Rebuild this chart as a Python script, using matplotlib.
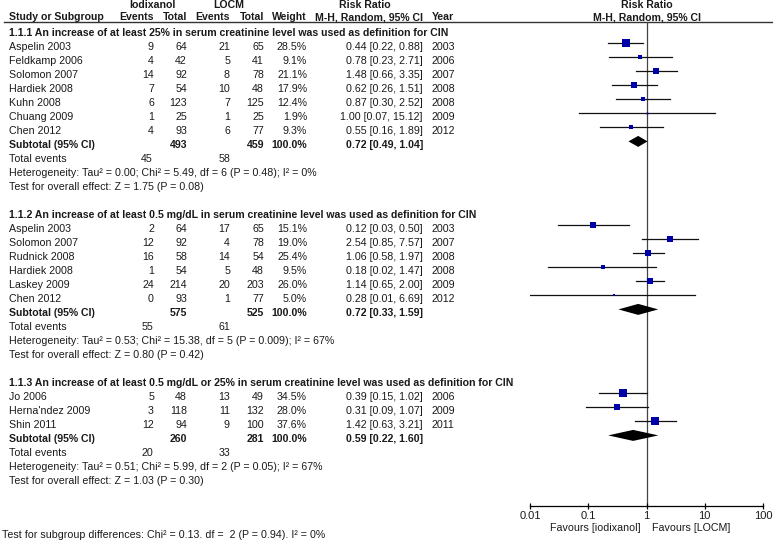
import numpy as np
import matplotlib.pyplot as plt

plt.rcParams['font.family'] = ['Liberation Sans', 'DejaVu Sans']
plt.rcParams['font.size'] = 7.65

# ---- data ----
headers = ["1.1.1 An increase of at least 25% in serum creatinine level was used as definition for CIN",
           "1.1.2 An increase of at least 0.5 mg/dL in serum creatinine level was used as definition for CIN",
           "1.1.3 An increase of at least 0.5 mg/dL or 25% in serum creatinine level was used as definition for CIN"]
group = [0, 0, 0, 0, 0, 0, 0, 1, 1, 1, 1, 1, 1, 2, 2, 2]
study = ["Aspelin 2003", "Feldkamp 2006", "Solomon 2007", "Hardiek 2008", "Kuhn 2008", "Chuang 2009", "Chen 2012",
         "Aspelin 2003", "Solomon 2007", "Rudnick 2008", "Hardiek 2008", "Laskey 2009", "Chen 2012",
         "Jo 2006", "Herna'ndez 2009", "Shin 2011"]
ev_iod = [9, 4, 14, 7, 6, 1, 4, 2, 12, 16, 1, 24, 0, 5, 3, 12]
tot_iod = [64, 42, 92, 54, 123, 25, 93, 64, 92, 58, 54, 214, 93, 48, 118, 94]
ev_locm = [21, 5, 8, 10, 7, 1, 6, 17, 4, 14, 5, 20, 1, 13, 11, 9]
tot_locm = [65, 41, 78, 48, 125, 25, 77, 65, 78, 54, 48, 203, 77, 49, 132, 100]
weight = [28.5, 9.1, 21.1, 17.9, 12.4, 1.9, 9.3, 15.1, 19.0, 25.4, 9.5, 26.0, 5.0, 34.5, 28.0, 37.6]
rr = [0.44, 0.78, 1.48, 0.62, 0.87, 1.00, 0.55, 0.12, 2.54, 1.06, 0.18, 1.14, 0.28, 0.39, 0.31, 1.42]
lo = [0.22, 0.23, 0.66, 0.26, 0.30, 0.07, 0.16, 0.03, 0.85, 0.58, 0.02, 0.65, 0.01, 0.15, 0.09, 0.63]
hi = [0.88, 2.71, 3.35, 1.51, 2.52, 15.12, 1.89, 0.50, 7.57, 1.97, 1.47, 2.00, 6.69, 1.02, 1.07, 3.21]
year = [2003, 2006, 2007, 2008, 2008, 2009, 2012, 2003, 2007, 2008, 2008, 2009, 2012, 2006, 2009, 2011]

sub_tot_iod = [493, 575, 260]
sub_tot_locm = [459, 525, 281]
sub_rr = [0.72, 0.72, 0.59]
sub_lo = [0.49, 0.33, 0.22]
sub_hi = [1.04, 1.59, 1.60]
sub_ev_iod = [45, 55, 20]
sub_ev_locm = [58, 61, 33]
heterogeneity = ["Heterogeneity: Tau\u00b2 = 0.00; Chi\u00b2 = 5.49, df = 6 (P = 0.48); I\u00b2 = 0%",
                 "Heterogeneity: Tau\u00b2 = 0.53; Chi\u00b2 = 15.38, df = 5 (P = 0.009); I\u00b2 = 67%",
                 "Heterogeneity: Tau\u00b2 = 0.51; Chi\u00b2 = 5.99, df = 2 (P = 0.05); I\u00b2 = 67%"]
overall = ["Test for overall effect: Z = 1.75 (P = 0.08)",
           "Test for overall effect: Z = 0.80 (P = 0.42)",
           "Test for overall effect: Z = 1.03 (P = 0.30)"]
subgroup_diff = "Test for subgroup differences: Chi\u00b2 = 0.13. df =  2 (P = 0.94). I\u00b2 = 0%"
ticks = [0.01, 0.1, 1, 10, 100]
tick_labels = ["0.01", "0.1", "1", "10", "100"]

# ---- layout (pixels) ----
W, H = 773, 543
TXT = '#1a1a1a'
BLUE = '#0000a8'
BOLD_SIZE = 7.55
x_name, x_ei, x_ti, x_el, x_tl, x_w, x_ci, x_yr = 9, 154, 187, 230, 264, 307, 423, 432
y0, step, off = 32.7, 14.0, -3.3
px_left, px_right, px_axis, px_top = 530, 763, 505.7, 22

fig = plt.figure(figsize=(W / 100, H / 100), dpi=100)
ta = fig.add_axes([0, 0, 1, 1])
ta.set_xlim(0, W)
ta.set_ylim(H, 0)
ta.axis('off')

fa = fig.add_axes([px_left / W, (H - px_axis) / H, (px_right - px_left) / W, (px_axis - px_top) / H])
fa.set_xscale('log')
fa.set_xlim(0.01, 100)
fa.set_ylim(px_axis, px_top)
fa.patch.set_alpha(0)
for s in ['top', 'left', 'right']:
    fa.spines[s].set_visible(False)
fa.spines['bottom'].set_linewidth(0.9)
fa.set_yticks([])
fa.set_xticks(ticks)
fa.set_xticklabels(tick_labels)
fa.minorticks_off()
fa.tick_params(axis='x', direction='inout', length=4, width=0.9, pad=1.5, labelsize=8, labelcolor=TXT)
fa.axvline(1, color='#444444', lw=0.9, zorder=1)


def t(x, y, s, ha='left', bold=False):
    if bold:
        ta.text(x, y, s, ha=ha, va='center', color=TXT, fontweight='bold', fontsize=BOLD_SIZE)
    else:
        ta.text(x, y, s, ha=ha, va='center', color=TXT)


# header
t(152, 5, "Iodixanol", 'center', True)
t(229, 5, "LOCM", 'center', True)
t(365, 5, "Risk Ratio", 'center', True)
t(647, 5, "Risk Ratio", 'center', True)
t(x_name, 17, "Study or Subgroup", bold=True)
t(x_ei, 17, "Events", 'right', True)
t(x_ti, 17, "Total", 'right', True)
t(x_el, 17, "Events", 'right', True)
t(x_tl, 17, "Total", 'right', True)
t(x_w, 17, "Weight", 'right', True)
t(x_ci, 17, "M-H, Random, 95% CI", 'right', True)
t(x_yr, 17, "Year", bold=True)
t(647, 17, "M-H, Random, 95% CI", 'center', True)
ta.plot([4, W], [px_top, px_top], color='#333333', lw=1.0)

row = 0
for g in range(3):
    t(x_name, y0 + step * row, headers[g], bold=True)
    row += 1
    for i in [k for k in range(len(study)) if group[k] == g]:
        y = y0 + step * row
        t(x_name, y, study[i])
        t(x_ei, y, str(ev_iod[i]), 'right')
        t(x_ti, y, str(tot_iod[i]), 'right')
        t(x_el, y, str(ev_locm[i]), 'right')
        t(x_tl, y, str(tot_locm[i]), 'right')
        t(x_w, y, f"{weight[i]:.1f}%", 'right')
        t(x_ci, y, f"{rr[i]:.2f} [{lo[i]:.2f}, {hi[i]:.2f}]", 'right')
        t(x_yr, y, str(year[i]))
        fa.plot([lo[i], hi[i]], [y + off, y + off], color='#111111', lw=0.9, zorder=2)
        fa.plot(rr[i], y + off, marker='s', color=BLUE, markersize=0.95 * np.sqrt(weight[i]),
                markeredgewidth=0, zorder=3)
        row += 1
    y = y0 + step * row
    t(x_name, y, "Subtotal (95% CI)", bold=True)
    t(x_ti, y, str(sub_tot_iod[g]), 'right', True)
    t(x_tl, y, str(sub_tot_locm[g]), 'right', True)
    t(x_w, y, "100.0%", 'right', True)
    t(x_ci, y, f"{sub_rr[g]:.2f} [{sub_lo[g]:.2f}, {sub_hi[g]:.2f}]", 'right', True)
    yc = y + off
    fa.fill([sub_lo[g], sub_rr[g], sub_hi[g], sub_rr[g]], [yc, yc - 5.5, yc, yc + 5.5],
            color='black', lw=0, zorder=3)
    row += 1
    y = y0 + step * row + 0.6
    t(x_name, y, "Total events")
    t(x_ei - 1, y, str(sub_ev_iod[g]), 'right')
    t(x_el, y, str(sub_ev_locm[g]), 'right')
    row += 1
    t(x_name, y0 + step * row, heterogeneity[g])
    row += 1
    t(x_name, y0 + step * row, overall[g])
    row += 2

t(641, 528, "Favours [iodixanol]", 'right')
t(652, 528, "Favours [LOCM]")
t(2, 535, subgroup_diff)

fig.savefig('out.png', dpi=100)
